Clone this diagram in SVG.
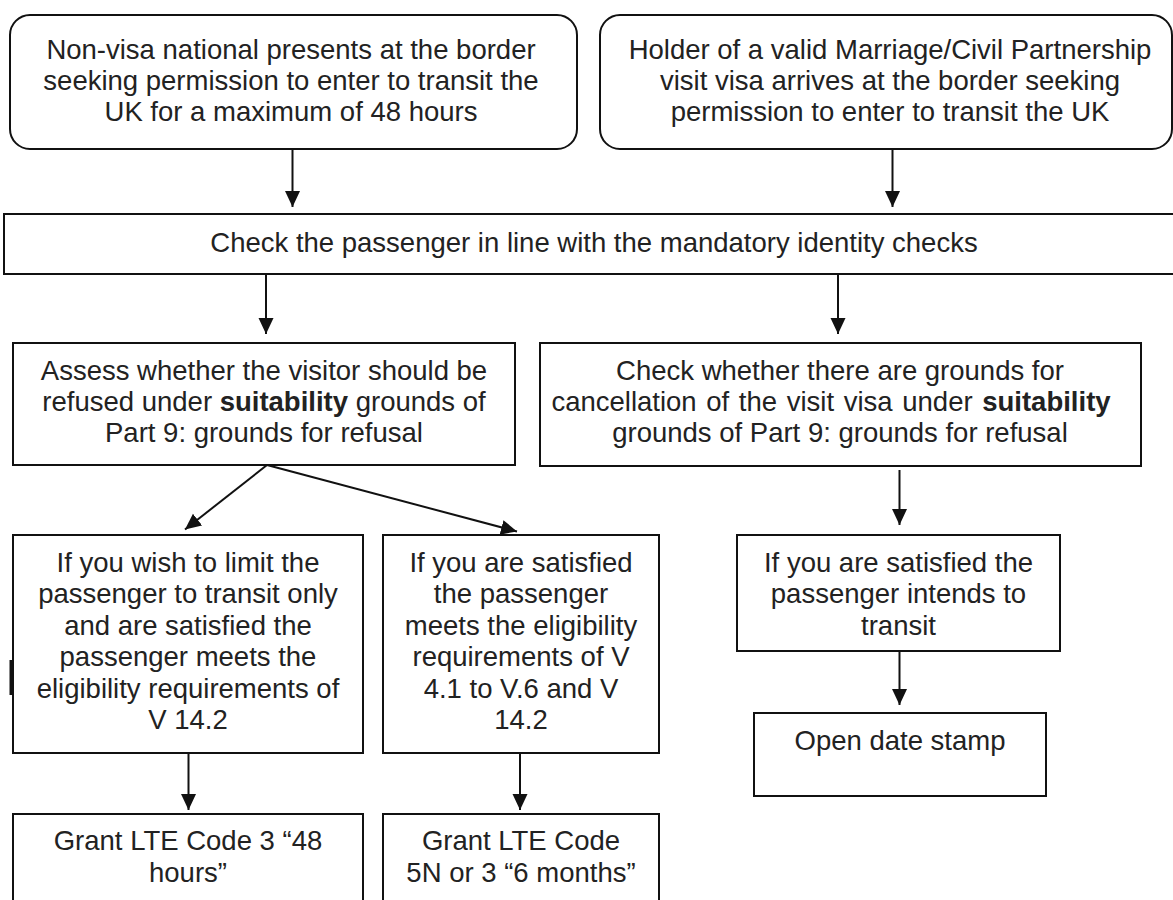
<svg xmlns="http://www.w3.org/2000/svg" width="1173" height="900" viewBox="0 0 1173 900">
<style>
.box{fill:#fff;stroke:#111;stroke-width:2}
.t{font-family:"Liberation Sans",Arial,sans-serif;font-size:27.5px;fill:#222;text-anchor:middle}
.b{font-weight:bold}
.c{stroke:#111;stroke-width:2;fill:none;marker-end:url(#ah)}
</style>
<defs>
<marker id="ah" markerUnits="userSpaceOnUse" markerWidth="16" markerHeight="16" refX="16" refY="7.5" orient="auto">
<path d="M0,0 L16,7.5 L0,15 Z" fill="#111"/>
</marker>
</defs>
<rect width="1173" height="900" fill="#fff"/>
<g id="n1">
<rect class="box" x="10" y="15" width="567" height="134" rx="20"/>
<text class="t"><tspan x="291" y="58.5">Non-visa national presents at the border</tspan><tspan x="291" y="89.5">seeking permission to enter to transit the</tspan><tspan x="291" y="120.5">UK for a maximum of 48 hours</tspan></text>
</g>
<g id="n2">
<rect class="box" x="600" y="15" width="572" height="134" rx="20"/>
<text class="t"><tspan x="890" y="58.5">Holder of a valid Marriage/Civil Partnership</tspan><tspan x="890" y="89.5">visit visa arrives at the border seeking</tspan><tspan x="890" y="120.5">permission to enter to transit the UK</tspan></text>
</g>
<g id="n3">
<rect class="box" x="4" y="214" width="1180" height="60"/>
<text class="t" x="594" y="252">Check the passenger in line with the mandatory identity checks</text>
</g>
<g id="n4">
<rect class="box" x="13" y="343" width="502" height="122"/>
<text class="t"><tspan x="264" y="380">Assess whether the visitor should be</tspan><tspan x="264" y="411">refused under <tspan class="b">suitability</tspan> grounds of</tspan><tspan x="264" y="442">Part 9: grounds for refusal</tspan></text>
</g>
<g id="n5">
<rect class="box" x="540" y="343" width="601" height="123"/>
<text class="t"><tspan x="840" y="380">Check whether there are grounds for</tspan><tspan x="831" y="411" word-spacing="2">cancellation of the visit visa under <tspan class="b">suitability</tspan></tspan><tspan x="840" y="442">grounds of Part 9: grounds for refusal</tspan></text>
</g>
<g id="n6">
<rect class="box" x="13" y="535" width="350" height="218"/>
<line x1="11" y1="660" x2="11" y2="695" stroke="#111" stroke-width="3"/>
<text class="t"><tspan x="188" y="571.5">If you wish to limit the</tspan><tspan x="188" y="603">passenger to transit only</tspan><tspan x="188" y="634.5">and are satisfied the</tspan><tspan x="188" y="666">passenger meets the</tspan><tspan x="188" y="697.5">eligibility requirements of</tspan><tspan x="188" y="729">V 14.2</tspan></text>
</g>
<g id="n7">
<rect class="box" x="383" y="535" width="276" height="218"/>
<text class="t"><tspan x="521" y="571.5">If you are satisfied</tspan><tspan x="521" y="603">the passenger</tspan><tspan x="521" y="634.5">meets the eligibility</tspan><tspan x="521" y="666">requirements of V</tspan><tspan x="521" y="697.5">4.1 to V.6 and V</tspan><tspan x="521" y="729">14.2</tspan></text>
</g>
<g id="n8">
<rect class="box" x="737" y="535" width="323" height="116"/>
<text class="t"><tspan x="898.5" y="571.5">If you are satisfied the</tspan><tspan x="898.5" y="603">passenger intends to</tspan><tspan x="898.5" y="634.5">transit</tspan></text>
</g>
<g id="n9">
<rect class="box" x="754" y="713" width="292" height="83"/>
<text class="t" x="900" y="750">Open date stamp</text>
</g>
<g id="n10">
<rect class="box" x="13" y="814" width="350" height="100"/>
<text class="t"><tspan x="188" y="850">Grant LTE Code 3 “48</tspan><tspan x="188" y="881.5">hours”</tspan></text>
</g>
<g id="n11">
<rect class="box" x="383" y="814" width="276" height="100"/>
<text class="t"><tspan x="521" y="850">Grant LTE Code</tspan><tspan x="521" y="881.5">5N or 3 “6 months”</tspan></text>
</g>
<g id="connectors">
<line class="c" x1="292.5" y1="149" x2="292.5" y2="207"/>
<line class="c" x1="892.5" y1="149" x2="892.5" y2="207"/>
<line class="c" x1="266" y1="274" x2="266" y2="334"/>
<line class="c" x1="838" y1="274" x2="838" y2="334"/>
<line class="c" x1="267" y1="465" x2="185" y2="529.5"/>
<line class="c" x1="267" y1="465" x2="517" y2="531.5"/>
<line class="c" x1="899.5" y1="470" x2="899.5" y2="525"/>
<line class="c" x1="899.5" y1="651" x2="899.5" y2="705"/>
<line class="c" x1="188.5" y1="753" x2="188.5" y2="810"/>
<line class="c" x1="520" y1="753" x2="520" y2="810"/>
</g>
</svg>
